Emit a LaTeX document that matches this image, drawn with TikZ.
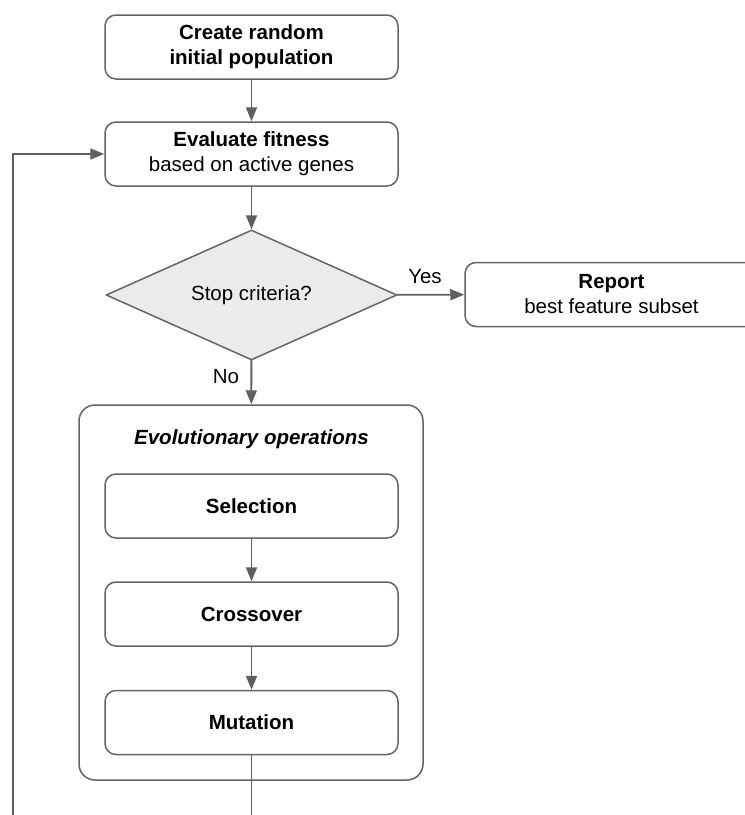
\documentclass[tikz,border=0pt]{standalone}
\usepackage{fontspec}
\setmainfont{Liberation Sans}
\usetikzlibrary{shapes.geometric,arrows.meta}

\definecolor{linegray}{RGB}{95,95,95}
\definecolor{boxgray}{RGB}{100,100,100}
\definecolor{diafill}{RGB}{235,235,235}

\begin{document}
\begin{tikzpicture}[x=1pt, y=-1pt, line cap=round, line join=round,
  every node/.style={font=\fontsize{20.5}{25}\selectfont},
  stepbox/.style={draw=boxgray, line width=1.5pt, rounded corners=11pt, align=center,
    minimum width=293pt, minimum height=64pt, inner sep=0pt},
  decision/.style={draw=boxgray, line width=1.5pt, fill=diafill, diamond, aspect=2.24,
    minimum width=291pt, minimum height=130pt, inner sep=0pt},
  groupbox/.style={draw=boxgray, line width=1.5pt, rounded corners=16pt,
    minimum width=344pt, minimum height=375pt, inner sep=0pt},
  flow/.style={draw=linegray, line width=1.8pt, -{Triangle[length=14pt,width=11pt]}},
  link/.style={draw=linegray, line width=1.8pt}]

% Frame
\useasboundingbox (0,0) rectangle (745,815);
\clip (0,0) rectangle (745,815);

% Group of evolutionary operations
\node[groupbox] (ops) at (251,592.5) {};
\node (opstitle) at (251.5,439) {\textbf{\textit{Evolutionary operations}}};

% Steps
\node[stepbox] (create) at (251.5,47) {\textbf{Create random}\\\textbf{initial population}};
\node[stepbox] (eval) at (251.5,154) {\textbf{Evaluate fitness}\\based on active genes};
\node[decision] (stop) at (251.5,295) {Stop criteria?};
\node[stepbox] (report) at (611.5,294.5) {\textbf{Report}\\best feature subset};
\node[stepbox] (sel) at (251.5,506) {\textbf{Selection}};
\node[stepbox] (cross) at (251.5,614) {\textbf{Crossover}};
\node[stepbox] (mut) at (251.5,722.5) {\textbf{Mutation}};

% Loose ends at the bottom
\coordinate (loopstart) at (13,815);
\coordinate (mutend) at (251.5,815);

% Connectors
\draw[flow] (create) -- (eval);
\draw[flow] (eval) -- (stop);
\draw[flow] (stop) -- (report);
\draw[flow] (stop) -- (ops);
\draw[flow] (sel) -- (cross);
\draw[flow] (cross) -- (mut);
\draw[link] (mut) -- (mutend);
\draw[flow] (loopstart) |- (eval);

% Labels
\node (yes) at (425,277) {Yes};
\node (no) at (226,377) {No};

\end{tikzpicture}
\end{document}
